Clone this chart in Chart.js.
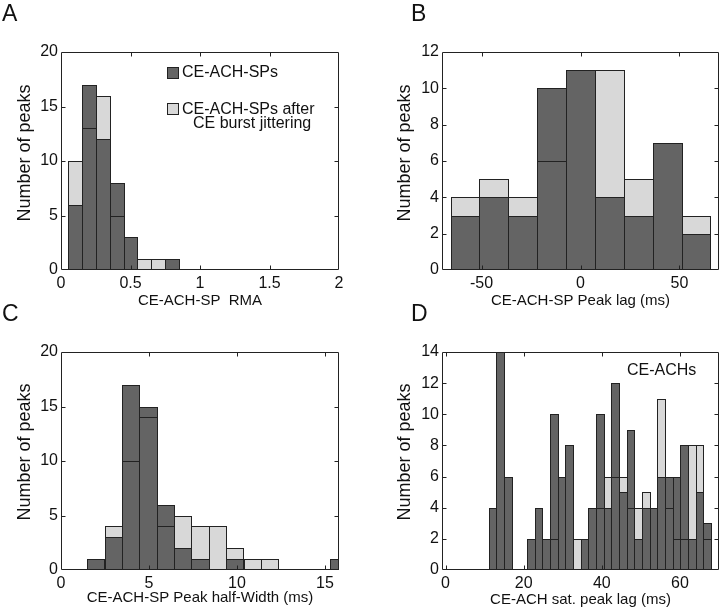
<!DOCTYPE html>
<html><head><meta charset="utf-8">
<script src="https://cdn.jsdelivr.net/npm/chart.js@4.4.1/dist/chart.umd.min.js"></script>
<style>
html,body{margin:0;padding:0;background:#fff;}
#wrap{position:relative;width:720px;height:610px;overflow:hidden;font-family:"Liberation Sans",Arial,Helvetica,sans-serif;color:#111;background:#fff;}
canvas{position:absolute;}
.t{position:absolute;white-space:pre;line-height:1;}
.yl{position:absolute;white-space:nowrap;line-height:1;font-size:18px;transform:translate(-50%,-50%) rotate(-90deg);}
.sw{position:absolute;width:12px;height:12px;box-sizing:border-box;border:1px solid #222;}
</style></head><body>
<div id="wrap">
<canvas id="cA" width="360" height="310" style="left:0;top:0"></canvas>
<canvas id="cB" width="360" height="310" style="left:360px;top:0"></canvas>
<canvas id="cC" width="360" height="310" style="left:0;top:300px"></canvas>
<canvas id="cD" width="360" height="310" style="left:360px;top:300px"></canvas>
<div class="t" style="left:2px;top:2px;font-size:23px">A</div>
<div class="t" style="left:411px;top:2px;font-size:23px">B</div>
<div class="t" style="left:2px;top:302px;font-size:23px">C</div>
<div class="t" style="left:411px;top:302px;font-size:23px">D</div>
<div class="yl" style="left:24px;top:153px">Number of peaks</div>
<div class="yl" style="left:404px;top:153px">Number of peaks</div>
<div class="yl" style="left:24px;top:452px">Number of peaks</div>
<div class="yl" style="left:404px;top:452px">Number of peaks</div>
<div class="sw" style="left:167px;top:67px;background:#646464"></div>
<div class="t" style="left:182px;top:64px;font-size:16px">CE-ACH-SPs</div>
<div class="sw" style="left:167px;top:103px;background:#d8d8d8"></div>
<div class="t" style="left:182px;top:101px;font-size:16px">CE-ACH-SPs after</div>
<div class="t" style="left:193px;top:115px;font-size:16px">CE burst jittering</div>
<div class="t" style="left:627px;top:362px;font-size:16px">CE-ACHs</div>
</div>
<script>
// ---- Panel A: CE-ACH-SP RMA ----
const binsA = [0.1, 0.2, 0.3, 0.4, 0.5, 0.6, 0.7, 0.8];
const spA   = [6, 17, 12, 8, 3, 0, 0, 1];
const jitA  = [10, 13, 16, 5, 3, 1, 1, 0];
const xTicksA = [0, 0.5, 1, 1.5, 2];
const yTicksA = [0, 5, 10, 15, 20];

// ---- Panel B: CE-ACH-SP Peak lag (ms) ----
const binsB = [-58.4, -43.8, -29.2, -14.6, 0, 14.6, 29.2, 43.8, 58.4];
const spB   = [3, 4, 3, 10, 11, 4, 3, 7, 2];
const jitB  = [4, 5, 4, 6, 11, 11, 5, 0, 3];
const xTicksB = [-50, 0, 50];
const yTicksB = [0, 2, 4, 6, 8, 10, 12];

// ---- Panel C: CE-ACH-SP Peak half-Width (ms) ----
const binsC = [1.98, 2.97, 3.95, 4.94, 5.93, 6.92, 7.90, 8.89, 9.88, 10.87, 11.85, 12.84, 13.83, 14.81, 15.80];
const spC   = [1, 3, 17, 15, 6, 2, 1, 0, 1, 0, 0, 0, 0, 0, 1];
const jitC  = [0, 4, 10, 14, 4, 5, 4, 4, 2, 1, 1, 0, 0, 0, 0];
const xTicksC = [0, 5, 10, 15];
const yTicksC = [0, 5, 10, 15, 20];

// ---- Panel D: CE-ACH sat. peak lag (ms) ----
const binsD = [12.05, 14.01, 15.97, 17.93, 19.89, 21.85, 23.81, 25.77, 27.73, 29.69,
               31.65, 33.61, 35.57, 37.53, 39.49, 41.45, 43.41, 45.37, 47.33, 49.29,
               51.25, 53.21, 55.17, 57.13, 59.09, 61.05, 63.01, 64.97, 66.93];
const achD  = [4, 14, 6, 0, 0, 2, 4, 2, 10, 6,
               8, 0, 2, 4, 10, 4, 12, 5, 9, 2,
               4, 4, 6, 6, 6, 8, 2, 5, 3];
const jitD  = [0, 0, 0, 0, 0, 0, 0, 2, 2, 0,
               0, 2, 2, 0, 4, 6, 6, 6, 4, 4,
               5, 4, 11, 4, 2, 2, 8, 8, 2];
const xTicksD = [0, 20, 40, 60];
const yTicksD = [0, 2, 4, 6, 8, 10, 12, 14];

const FONT = '"Liberation Sans", Arial, Helvetica, sans-serif';
const TXT = '#111';
const DARK = '#646464', LIGHT = '#d8d8d8', EDGE = '#222222';
Chart.defaults.font.family = FONT;

function pts(xs, ys) { return xs.map((x, i) => ({x: x, y: ys[i]})); }

function histDatasets(xs, dark, light) {
  const c = {borderColor: EDGE, borderWidth: 1, borderSkipped: false, grouped: false,
             barPercentage: 1, categoryPercentage: 1, inflateAmount: 0};
  return [
    Object.assign({}, c, {label: 'jitter outline', data: pts(xs, light), backgroundColor: 'rgba(0,0,0,0)', order: 0}),
    Object.assign({}, c, {label: 'dark', data: pts(xs, dark), backgroundColor: DARK, order: 1}),
    Object.assign({}, c, {label: 'light', data: pts(xs, light), backgroundColor: LIGHT, borderWidth: 0, order: 2})
  ];
}

// Snap the library-computed bar rectangles to whole pixels (extended by 1px to the right)
// so neighbouring bars share one crisp 1px edge.
const snapPlugin = {
  id: 'snap',
  afterDatasetsUpdate(chart) {
    chart.data.datasets.forEach((ds, i) => {
      chart.getDatasetMeta(i).data.forEach(el => {
        const l = Math.round(el.x - el.width / 2), r = Math.round(el.x + el.width / 2) + 1;
        el.x = (l + r) / 2;
        el.width = r - l;
        el.y = Math.round(el.y);
        el.base = Math.round(el.base);
      });
    });
  }
};

const framePlugin = {
  id: 'frame',
  afterDatasetsDraw(chart) {
    const {ctx, chartArea: a} = chart;
    const x = chart.scales.x, y = chart.scales.y;
    const L = Math.round(a.left) + 0.5, R = Math.round(a.right) - 0.5;
    const T = Math.round(a.top) + 0.5, B = Math.round(a.bottom) - 0.5;
    const len = 4;
    ctx.save();
    ctx.strokeStyle = '#222';
    ctx.lineWidth = 1;
    ctx.beginPath();
    ctx.rect(L, T, R - L, B - T);
    x.ticks.forEach(t => {
      const p = Math.round(x.getPixelForValue(t.value)) + 0.5;
      if (p <= L + 1 || p >= R - 1) return;
      ctx.moveTo(p, B); ctx.lineTo(p, B - len);
      ctx.moveTo(p, T); ctx.lineTo(p, T + len);
    });
    y.ticks.forEach(t => {
      const p = Math.round(y.getPixelForValue(t.value)) + 0.5;
      if (p <= T + 1 || p >= B - 1) return;
      ctx.moveTo(L, p); ctx.lineTo(L + len, p);
      ctx.moveTo(R, p); ctx.lineTo(R - len, p);
    });
    ctx.stroke();
    ctx.restore();
  }
};

function makeChart(id, o) {
  new Chart(document.getElementById(id), {
    type: 'bar',
    data: {datasets: histDatasets(o.bins, o.dark, o.light)},
    options: {
      responsive: false, maintainAspectRatio: false, animation: false,
      layout: {padding: {left: 0, top: 52, right: o.padR, bottom: 0}},
      plugins: {legend: {display: false}, tooltip: {enabled: false}},
      scales: {
        x: {
          type: 'linear', offset: false, min: o.xmin, max: o.xmax,
          grid: {display: false, drawTicks: false}, border: {display: false},
          afterBuildTicks: s => { s.ticks = o.xticks.map(v => ({value: v})); },
          ticks: {autoSkip: false, maxRotation: 0, padding: 4, color: TXT, font: {size: 16}, callback: v => String(v)},
          title: {display: true, text: o.xtitle, color: TXT, font: {size: 15}, padding: {top: 0, bottom: o.xtpad}},
          afterFit: s => { s.height = 40; }
        },
        y: {
          type: 'linear', min: 0, max: o.ymax,
          grid: {display: false, drawTicks: false}, border: {display: false},
          afterBuildTicks: s => { s.ticks = o.yticks.map(v => ({value: v})); },
          ticks: {autoSkip: false, padding: 3, color: TXT, font: {size: 16}, callback: v => String(v)},
          afterFit: s => { s.width = o.yw; }
        }
      }
    },
    plugins: [snapPlugin, framePlugin]
  });
}

makeChart('cA', {bins: binsA, dark: spA, light: jitA, xmin: 0, xmax: 2, ymax: 20,
  xticks: xTicksA, yticks: yTicksA, xtitle: 'CE-ACH-SP  RMA', xtpad: 0, yw: 61, padR: 21});
makeChart('cB', {bins: binsB, dark: spB, light: jitB, xmin: -70, xmax: 70, ymax: 12,
  xticks: xTicksB, yticks: yTicksB, xtitle: 'CE-ACH-SP Peak lag (ms)', xtpad: 0, yw: 82, padR: 1});
makeChart('cC', {bins: binsC, dark: spC, light: jitC, xmin: 0, xmax: 15.8, ymax: 20,
  xticks: xTicksC, yticks: yTicksC, xtitle: 'CE-ACH-SP Peak half-Width (ms)', xtpad: 3, yw: 61, padR: 21});
makeChart('cD', {bins: binsD, dark: achD, light: jitD, xmin: -0.9, xmax: 70, ymax: 14,
  xticks: xTicksD, yticks: yTicksD, xtitle: 'CE-ACH sat. peak lag (ms)', xtpad: 1, yw: 82, padR: 1});
</script>
</body></html>
